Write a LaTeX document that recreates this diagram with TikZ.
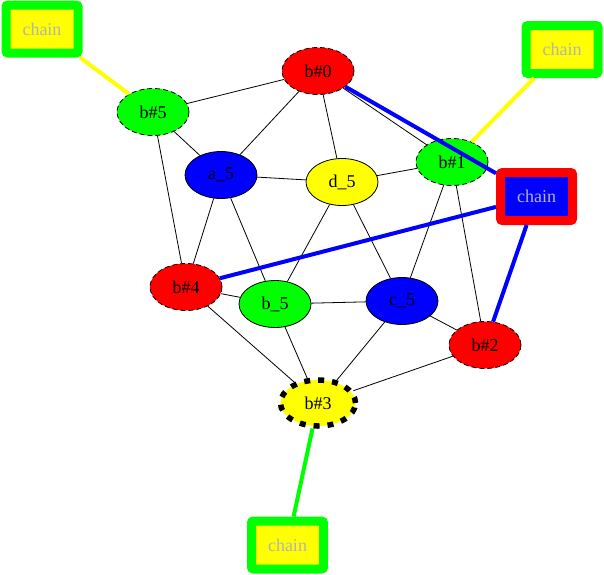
\documentclass[tikz,border=0pt]{standalone}
\usepackage{fontspec}
\setmainfont{Liberation Serif}
\usepackage{xcolor}
\usepackage{tikz}
\usetikzlibrary{shapes.geometric}
\definecolor{gvred}{HTML}{FF0000}
\definecolor{gvgreen}{HTML}{00FF00}
\definecolor{gvblue}{HTML}{0000FF}
\definecolor{gvyellow}{HTML}{FFFF00}
\definecolor{gvgray}{HTML}{B4B4B4}
\tikzset{
  vertex/.style={ellipse, draw, line width=0.8pt, minimum width=72pt, minimum height=47pt, inner sep=0pt, font=\fontsize{18}{20}\selectfont},
  plain/.style={vertex},
  dashy/.style={vertex, dash pattern=on 5pt off 3pt},
  heavy/.style={vertex, line width=5.5pt, dash pattern=on 6pt off 8pt, minimum width=75pt, minimum height=46pt},
  chainbox/.style={rectangle, rounded corners=2pt, line width=9pt, minimum width=72pt, minimum height=48pt, inner sep=0pt, text=gvgray, font=\fontsize{18}{20}\selectfont},
  edge/.style={line width=0.8pt, black},
  link/.style={line width=4pt}
}
\begin{document}
\begin{tikzpicture}[x=1pt, y=-1pt]
  \useasboundingbox (0,0) rectangle (604,574);
  % the graph
  \node[dashy, fill=gvred] (b0) at (318,71) {b\#0};
  \node[dashy, fill=gvgreen] (b5) at (153,112) {b\#5};
  \node[plain, fill=gvblue] (a5) at (221,175) {a\_5};
  \node[plain, fill=gvyellow] (d5) at (342,182) {d\_5};
  \node[dashy, fill=gvgreen] (b1) at (452,162) {b\#1};
  \node[dashy, fill=gvred] (b4) at (186,287) {b\#4};
  \node[plain, fill=gvgreen] (b5x) at (275,304) {b\_5};
  \node[plain, fill=gvblue] (c5) at (402,301) {c\_5};
  \node[dashy, fill=gvred] (b2) at (485,345) {b\#2};
  \node[heavy, fill=gvyellow] (b3) at (318,403) {b\#3};

  % chains
  \node[chainbox, draw=gvgreen, fill=gvyellow] (chaintl) at (42,29) {chain};
  \node[chainbox, draw=gvgreen, fill=gvyellow] (chaintr) at (562,49.5) {chain};
  \node[chainbox, draw=gvred, fill=gvblue] (chainr) at (536.5,196.5) {chain};
  \node[chainbox, draw=gvgreen, fill=gvyellow] (chainb) at (287.5,545) {chain};

  \draw[edge] (b0) -- (b5);
  \draw[edge] (b0) -- (a5);
  \draw[edge] (b0) -- (d5);
  \draw[edge] (b0) -- (b1);
  \draw[edge] (b5) -- (a5);
  \draw[edge] (b5) -- (b4);
  \draw[edge] (a5) -- (d5);
  \draw[edge] (a5) -- (b4);
  \draw[edge] (a5) -- (b5x);
  \draw[edge] (d5) -- (b1);
  \draw[edge] (d5) -- (b5x);
  \draw[edge] (d5) -- (c5);
  \draw[edge] (b1) -- (c5);
  \draw[edge] (b1) -- (b2);
  \draw[edge] (b4) -- (b5x);
  \draw[edge] (b4) -- (b3);
  \draw[edge] (b5x) -- (c5);
  \draw[edge] (b5x) -- (b3);
  \draw[edge] (c5) -- (b2);
  \draw[edge] (c5) -- (b3);
  \draw[edge] (b2) -- (b3);

  \draw[link, gvblue] (chainr) -- (b0);
  \draw[link, gvblue] (chainr) -- (b4);
  \draw[link, gvblue] (chainr) -- (b2);
  \draw[link, gvyellow] (chaintl) -- (b5);
  \draw[link, gvyellow] (chaintr) -- (b1);
  \draw[link, gvgreen] (chainb) -- (b3);
\end{tikzpicture}
\end{document}
